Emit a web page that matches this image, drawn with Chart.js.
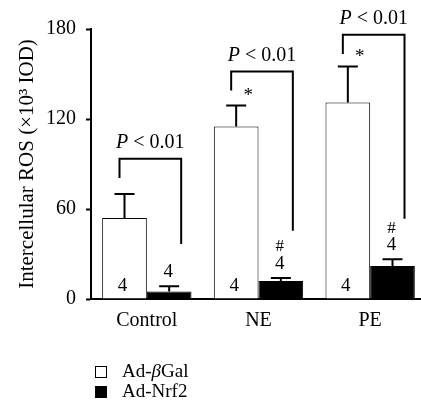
<!DOCTYPE html>
<html>
<head>
<meta charset="utf-8">
<script src="https://cdn.jsdelivr.net/npm/chart.js@4"></script>
<style>
html, body { margin: 0; padding: 0; background: #fff; overflow: hidden; }
</style>
</head>
<body>
<canvas id="rosChart" width="426" height="410"></canvas>
<script>
// values
const categories = ['Control', 'NE', 'PE'];
const seriesNames = ['Ad-βGal', 'Ad-Nrf2'];
const galValues = [54, 115, 131];
const galErrors = [16, 14, 24];
const nrfValues = [5, 12, 22];
const nrfErrors = [3.5, 2, 4.5];
const galCounts = ['4', '4', '4'];
const nrfCounts = ['4', '4', '4'];
const galMarks = ['', '*', '*'];
const nrfMarks = ['', '#', '#'];
const yTicks = [0, 60, 120, 180];
const pText = ['P', ' < 0.01'];
const bracketTop = [93.5, 151.7, 176.2];
const bracketLeftEnd = [80.7, 139, 163.3];
const bracketRightEnd = [36.7, 45.5, 53.5];

const FONT = '"Liberation Serif", "Times New Roman", serif';

// draws text where greek letters / first part can be italic
function drawParts(ctx, parts, x, y, size, align) {
  const widths = parts.map(p => {
    ctx.font = (p.italic ? 'italic ' : '') + size + 'px ' + FONT;
    return ctx.measureText(p.text).width;
  });
  const total = widths.reduce((a, b) => a + b, 0);
  let cx = align === 'center' ? x - total / 2 : x;
  ctx.textAlign = 'left';
  parts.forEach((p, i) => {
    ctx.font = (p.italic ? 'italic ' : '') + size + 'px ' + FONT;
    ctx.fillText(p.text, cx, y);
    cx += widths[i];
  });
}

function splitGreek(label) {
  const parts = [];
  for (const ch of label) {
    const italic = /[α-ωΑ-Ω]/.test(ch);
    const last = parts[parts.length - 1];
    if (last && last.italic === italic) last.text += ch;
    else parts.push({ text: ch, italic });
  }
  return parts;
}

const annotations = {
  id: 'annotations',
  afterDatasetsDraw(chart) {
    const { ctx, scales: { y } } = chart;
    const gal = chart.getDatasetMeta(0).data;
    const nrf = chart.getDatasetMeta(1).data;
    ctx.save();
    ctx.strokeStyle = '#000';
    ctx.fillStyle = '#000';
    ctx.lineWidth = 2;
    ctx.lineJoin = 'miter';
    ctx.textBaseline = 'middle';

    // error bars
    [[gal, galValues, galErrors], [nrf, nrfValues, nrfErrors]].forEach(([bars, vals, errs]) => {
      bars.forEach((bar, i) => {
        const top = y.getPixelForValue(vals[i] + errs[i]);
        ctx.beginPath();
        ctx.moveTo(bar.x, y.getPixelForValue(vals[i]));
        ctx.lineTo(bar.x, top);
        ctx.moveTo(bar.x - 10, top);
        ctx.lineTo(bar.x + 10, top);
        ctx.stroke();
      });
    });

    // n inside white bars
    ctx.font = '19px ' + FONT;
    ctx.textAlign = 'center';
    gal.forEach((bar, i) => {
      ctx.fillText(galCounts[i], bar.x - 2, y.getPixelForValue(0) - 13);
    });
    // n and # above black bars
    nrf.forEach((bar, i) => {
      const top = y.getPixelForValue(nrfValues[i] + nrfErrors[i]);
      ctx.font = '19px ' + FONT;
      ctx.fillText(nrfCounts[i], bar.x - 1, top - 14);
      ctx.font = '17px ' + FONT;
      if (nrfMarks[i]) ctx.fillText(nrfMarks[i], bar.x - 1, top - 31);
    });
    // * above white bars
    gal.forEach((bar, i) => {
      if (!galMarks[i]) return;
      const top = y.getPixelForValue(galValues[i] + galErrors[i]);
      ctx.font = '19px ' + FONT;
      ctx.fillText(galMarks[i], bar.x + 12, top - 9);
    });

    // significance brackets
    gal.forEach((bar, i) => {
      const left = bar.x - 5;
      const right = nrf[i].x + 12;
      const top = y.getPixelForValue(bracketTop[i]);
      ctx.beginPath();
      ctx.moveTo(left, y.getPixelForValue(bracketLeftEnd[i]));
      ctx.lineTo(left, top);
      ctx.lineTo(right, top);
      ctx.lineTo(right, y.getPixelForValue(bracketRightEnd[i]));
      ctx.stroke();
      drawParts(ctx, [{ text: pText[0], italic: true }, { text: pText[1], italic: false }],
        (left + right) / 2, top - 16, 20, 'center');
    });

    // legend, stacked at the bottom left
    chart.data.datasets.forEach((ds, i) => {
      const cy = 372 + i * 20;
      ctx.fillStyle = ds.backgroundColor;
      ctx.fillRect(95, cy - 6, 12, 12);
      ctx.lineWidth = 1;
      ctx.strokeStyle = '#000';
      ctx.strokeRect(95.5, cy - 5.5, 11, 11);
      ctx.fillStyle = '#000';
      drawParts(ctx, splitGreek(ds.label), 122, cy, 19, 'left');
    });
    ctx.restore();
  }
};

new Chart(document.getElementById('rosChart'), {
  type: 'bar',
  data: {
    labels: categories,
    datasets: [
      { label: seriesNames[0], data: galValues, backgroundColor: '#ffffff', borderColor: '#000', borderWidth: 1 },
      { label: seriesNames[1], data: nrfValues, backgroundColor: '#000000', borderColor: '#000', borderWidth: 1 }
    ]
  },
  options: {
    responsive: false,
    animation: false,
    categoryPercentage: 0.8,
    barPercentage: 1.0,
    layout: { padding: { top: 29, right: 0, bottom: 0, left: 0 } },
    plugins: { legend: { display: false }, tooltip: { enabled: false } },
    scales: {
      x: {
        grid: { display: false, drawTicks: false },
        border: { color: '#000', width: 2 },
        ticks: { color: '#000', padding: 10, font: { family: FONT, size: 20 } },
        afterFit(scale) { scale.height = 111; }
      },
      y: {
        min: 0,
        max: 180,
        afterBuildTicks(scale) { scale.ticks = yTicks.map(v => ({ value: v })); },
        grid: { drawOnChartArea: false, color: '#000', tickLength: 5, tickWidth: 2 },
        border: { color: '#000', width: 2 },
        ticks: { color: '#000', padding: 10, font: { family: FONT, size: 20 } },
        title: {
          display: true,
          text: 'Intercellular ROS (×10³ IOD)',
          color: '#000',
          font: { family: FONT, size: 21 },
          padding: { top: 15, bottom: 0 }
        },
        afterFit(scale) { scale.width = 91; }
      }
    }
  },
  plugins: [annotations]
});
</script>
</body>
</html>
